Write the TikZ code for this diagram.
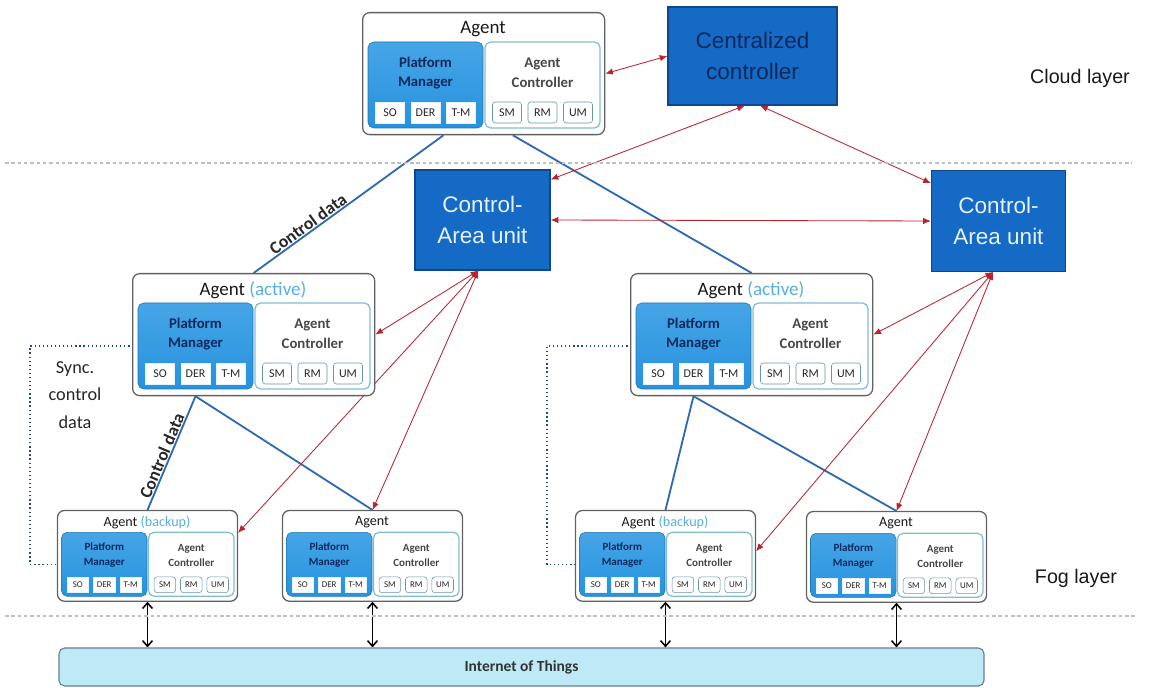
\documentclass[tikz,border=0pt]{standalone}
\usepackage{fontspec}
\setmainfont{Carlito}
\newfontfamily\arialfont{Liberation Sans}
\usetikzlibrary{positioning,calc,arrows.meta,backgrounds}

\definecolor{boxblue}{RGB}{20,106,196}
\definecolor{boxedge}{RGB}{16,70,138}
\definecolor{navy}{RGB}{14,40,92}
\definecolor{calight}{RGB}{232,242,255}
\definecolor{linkblue}{RGB}{46,106,176}
\definecolor{linkred}{RGB}{185,35,45}
\definecolor{pmtop}{RGB}{70,165,230}
\definecolor{pmmid}{RGB}{135,207,244}
\definecolor{pmbot}{RGB}{38,146,222}
\definecolor{acedge}{RGB}{130,190,208}
\definecolor{status}{RGB}{86,176,222}
\definecolor{iotfill}{RGB}{190,234,248}
\definecolor{syncblue}{RGB}{40,70,130}

\newcommand{\unitpx}{0.025cm}

\tikzset{
  agentbox/.style={draw=black!62, line width=0.9pt, rounded corners=5pt, fill=white,
    minimum width=242*\unitpx, minimum height=122*\unitpx, inner sep=0pt},
  agenttitle/.style={font=\fontsize{13.5}{15}\selectfont, text=black!90, inner sep=0pt},
  pmbox/.style={draw=pmbot!80!black, line width=0.4pt, rounded corners=4pt,
    top color=pmtop, middle color=pmmid, bottom color=pmbot,
    minimum width=115*\unitpx, minimum height=86*\unitpx, inner sep=0pt},
  acbox/.style={draw=acedge, line width=0.9pt, rounded corners=4pt, fill=white,
    minimum width=115*\unitpx, minimum height=86*\unitpx, inner sep=0pt},
  pmtext/.style={align=center, font=\bfseries\fontsize{10.5}{14}\selectfont, text=navy, inner sep=0pt},
  actext/.style={align=center, font=\bfseries\fontsize{10.5}{14}\selectfont, text=black!72, inner sep=0pt},
  pmsub/.style={draw=white!85!pmtop, fill=white, line width=0.4pt,
    minimum width=29*\unitpx, minimum height=21*\unitpx, inner sep=0pt,
    font=\fontsize{8.5}{10}\selectfont, text=black!85},
  acsub/.style={pmsub, draw=acedge!80!black, rounded corners=2pt},
  ctrlbox/.style={draw=boxedge, line width=0.8pt, fill=boxblue, align=center,
    font=\arialfont\fontsize{16}{22.5}\selectfont, inner sep=0pt},
  iotbox/.style={draw=black!45!iotfill, line width=0.8pt, rounded corners=4pt, fill=iotfill,
    minimum width=925*\unitpx, minimum height=38*\unitpx,
    font=\bfseries\fontsize{11}{13}\selectfont, text=black!80},
  layertext/.style={font=\arialfont\fontsize{14}{16}\selectfont, text=black!90},
  layerline/.style={draw=black!25, line width=0.8pt, dash pattern=on 2.5pt off 2pt},
  datalink/.style={draw=linkblue, line width=1.3pt},
  datatext/.style={font=\bfseries\fontsize{12.5}{14}\selectfont, text=black!85, inner sep=0.5pt},
  ctrllink/.style={draw=linkred, line width=0.6pt,
    {Latex[length=5.5pt,width=4.5pt]}-{Latex[length=5.5pt,width=4.5pt]}},
  iolink/.style={draw=black, line width=1.1pt,
    {Straight Barb[length=4pt,width=7pt]}-{Straight Barb[length=4pt,width=7pt]}},
  synclink/.style={draw=syncblue, line width=0.9pt, dotted},
  synctext/.style={align=center, font=\fontsize{13}{19.5}\selectfont, text=black!85}
}

% one agent, drawn in a scope whose origin is its top left corner
\newcommand{\agent}[2]{%
  \node[agentbox, anchor=north west] (#1) at (0,0) {};
  \node[agenttitle] (#1-title) at (121,17) {#2};
  \node[pmbox] (#1-pm) at (63.5,73) {};
  \node[acbox] (#1-ac) at (180.5,73) {};
  \node[pmtext] (#1-pmt) at (63.5,61) {Platform\\Manager};
  \node[actext] (#1-act) at (180.5,61) {Agent\\Controller};
  \node[pmsub] (#1-so) at (28,100.5) {SO};
  \node[pmsub] (#1-der) at (63.5,100.5) {DER};
  \node[pmsub] (#1-tm) at (99,100.5) {T-M};
  \node[acsub] (#1-sm) at (145,100.5) {SM};
  \node[acsub] (#1-rm) at (180.5,100.5) {RM};
  \node[acsub] (#1-um) at (216,100.5) {UM};
}

\begin{document}
\begin{tikzpicture}[x=0.025cm, y=-0.025cm]
  \useasboundingbox (0,0) rectangle (1160,688);

  % layers
  \draw[layerline] (5,163) -- (1132,163);
  \draw[layerline] (5,616) -- (1136,616);
  \node[layertext] (cloud) at (1080,78) {Cloud layer};
  \node[layertext] (fog) at (1076,578) {Fog layer};

  % cloud layer
  \begin{scope}[shift={(362,12)}]
    \agent{top}{Agent}
  \end{scope}
  \node[ctrlbox, text=navy, minimum width=169*\unitpx, minimum height=98*\unitpx] (cc) at (752.5,56) {Centralized\\controller};

  % control-area units
  \node[ctrlbox, text=calight, minimum width=135*\unitpx, minimum height=100*\unitpx] (cal) at (482.5,220) {Control-\\Area unit};
  \node[ctrlbox, text=calight, minimum width=134*\unitpx, minimum height=101*\unitpx] (car) at (998.5,221) {Control-\\Area unit};

  % fog layer agents
  \begin{scope}[shift={(132,273)}]
    \agent{ml}{Agent \textcolor{status}{(active)}}
  \end{scope}
  \begin{scope}[shift={(630,273)}]
    \agent{mr}{Agent \textcolor{status}{(active)}}
  \end{scope}
  \begin{scope}[shift={(57,510)}, scale=0.744, transform shape]
    \agent{bl}{Agent \textcolor{status}{(backup)}}
  \end{scope}
  \begin{scope}[shift={(282,510)}, scale=0.744, transform shape]
    \agent{bb}{Agent}
  \end{scope}
  \begin{scope}[shift={(575,510)}, scale=0.744, transform shape]
    \agent{br}{Agent \textcolor{status}{(backup)}}
  \end{scope}
  \begin{scope}[shift={(806,511)}, scale=0.744, transform shape]
    \agent{bd}{Agent}
  \end{scope}

  \node[iotbox] (iot) at (521.5,667) {Internet of Things};
  \node[synctext] (sync) at (75,395) {Sync.\\control\\data};

  \begin{scope}[on background layer]
    % control data
    \draw[datalink] ($(top.south west)!0.335!(top.south east)$) -- node[datatext, pos=0.69, sloped, above] {Control data} (ml.north);
    \draw[datalink] ($(top.south west)!0.62!(top.south east)$) -- (mr.north);
    \draw[datalink] (ml.south -| ml-der) -- node[datatext, pos=0.55, sloped, above] {Control data} (bl.north);
    \draw[datalink] (ml.south -| ml-der) -- (bb.north);
    \draw[datalink] (mr.south -| mr-der) -- (br.north);
    \draw[datalink] (mr.south -| mr-der) -- (bd.north);

    % control links
    \coordinate (cal-p) at ($(cal.south west)!0.47!(cal.south east)$);
    \coordinate (car-p) at ($(car.south west)!0.46!(car.south east)$);
    \draw[ctrllink] (top.east) -- (cc.west);
    \draw[ctrllink] ($(cc.south west)!0.456!(cc.south east)$) -- ($(cal.north east)!0.1!(cal.south east)$);
    \draw[ctrllink] ($(cc.south west)!0.544!(cc.south east)$) -- ($(car.north west)!0.13!(car.south west)$);
    \draw[ctrllink] (cal.east) -- (car.west);
    \draw[ctrllink] (cal-p) -- (ml.east);
    \draw[ctrllink] (cal-p) -- ($(bl.north east)!0.25!(bl.south east)$);
    \draw[ctrllink] (cal-p) -- (bb.north);
    \draw[ctrllink] (car-p) -- (mr.east);
    \draw[ctrllink] (car-p) -- ($(br.north east)!0.45!(br.south east)$);
    \draw[ctrllink] (car-p) -- (bd.north);

    % sync between active and backup
    \coordinate (sync-l) at (30,450);
    \coordinate (sync-r) at (547,450);
    \draw[synclink] (ml-pm.west) -| (sync-l) |- (bl-pm.west);
    \draw[synclink] (mr-pm.west) -| (sync-r) |- (br-pm.west);

    % to the things
    \foreach \a in {bl,bb,br,bd}
      \draw[iolink] (\a.south) -- (\a.south |- iot.north);
  \end{scope}
\end{tikzpicture}
\end{document}
